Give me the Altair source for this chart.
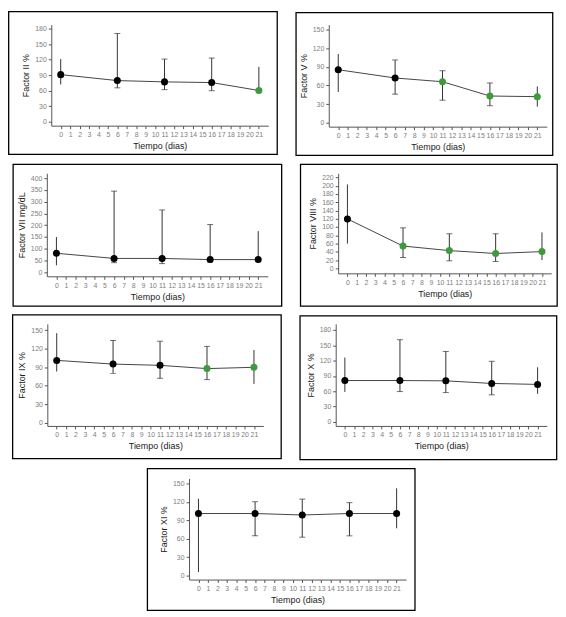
import altair as alt
import pandas as pd

# dias de muestreo y etiquetas del eje x
dias = [0, 6, 11, 16, 21]
dias_eje = [0, 1, 2, 3, 4, 5, 6, 7, 8, 9, 10, 11, 12, 13, 14, 15, 16, 17, 18, 19, 20, 21]

# Factor II %
f2_media = [91, 79.5, 77, 75.7, 60.4]
f2_sup = [121, 170.5, 121, 123, 106]
f2_inf = [72, 65.5, 62, 60, 58]
f2_sig = ["no", "no", "no", "no", "si"]
f2_ticks = [0, 30, 60, 90, 120, 150, 180]

# Factor V %
f5_media = [85.3, 72, 66, 43, 42]
f5_sup = [110.5, 101, 83.7, 64, 58.4]
f5_inf = [49.5, 46, 36.3, 27.4, 26]
f5_sig = ["no", "no", "si", "si", "si"]
f5_ticks = [0, 30, 60, 90, 120, 150]

# Factor VII mg/dL
f7_media = [81, 59, 59, 54, 54]
f7_sup = [150, 345, 265, 203, 175]
f7_inf = [30, 41, 37, 44, 46]
f7_sig = ["no", "no", "no", "no", "no"]
f7_ticks = [0, 50, 100, 150, 200, 250, 300, 350, 400]

# Factor VIII %
f8_media = [119.6, 54, 43, 36, 40.6]
f8_sup = [203, 98, 83.7, 83.7, 87]
f8_inf = [60, 26.3, 18.3, 16.7, 20]
f8_sig = ["no", "si", "si", "si", "si"]
f8_ticks = [0, 20, 40, 60, 80, 100, 120, 140, 160, 180, 200, 220]

# Factor IX %
f9_media = [101, 95, 93, 87.7, 89.8]
f9_sup = [145, 133, 132, 123.6, 117.8]
f9_inf = [83, 80, 72, 70, 63]
f9_sig = ["no", "no", "no", "si", "si"]
f9_ticks = [0, 30, 60, 90, 120, 150]

# Factor X %
f10_media = [81, 81, 80.4, 75.3, 73.4]
f10_sup = [126, 161, 138, 118.7, 107]
f10_inf = [58.7, 59.4, 57.4, 53, 55]
f10_sig = ["no", "no", "no", "no", "no"]
f10_ticks = [0, 30, 60, 90, 120, 150, 180]

# Factor XI %
f11_media = [101, 101, 98.6, 101, 101]
f11_sup = [125, 120, 124.5, 118.7, 142]
f11_inf = [5.8, 64.7, 62.5, 64.7, 77]
f11_sig = ["no", "no", "no", "no", "no"]
f11_ticks = [0, 30, 60, 90, 120, 150]


def panel(media, sup, inf, sig, titulo, ticks, dominio, caja):
    # caja: margen izq, ancho, margen der, margen arriba, alto, margen abajo (px)
    izq, ancho, der, arriba, alto, abajo = caja
    df = pd.DataFrame({"dia": dias, "media": media, "sup": sup, "inf": inf, "sig": sig})

    x = alt.X("dia:Q", title="Tiempo (dias)",
              scale=alt.Scale(domain=[-1, 22], nice=False, zero=False),
              axis=alt.Axis(values=dias_eje, labelOverlap=False, labelFlush=False, grid=False))

    def y(campo):
        return alt.Y(campo, title=titulo,
                     scale=alt.Scale(domain=dominio, nice=False, zero=False),
                     axis=alt.Axis(values=ticks, grid=False))

    base = alt.Chart(df)
    marco = alt.Chart(pd.DataFrame({"k": [0]})).mark_rect(
        filled=False, stroke="black", strokeWidth=1.3
    ).encode(x=alt.value(-izq), x2=alt.value(ancho + der),
             y=alt.value(-arriba), y2=alt.value(alto + abajo))
    linea = base.mark_line(color="#444", strokeWidth=1).encode(x=x, y=y("media:Q"))
    barras = base.mark_rule(color="#333", strokeWidth=1).encode(x=x, y=y("inf:Q"), y2="sup:Q")
    topes = base.transform_filter("datum.dia > 0 && datum.dia < 21").transform_fold(
        ["sup", "inf"], as_=["lim", "valor"]
    ).mark_tick(orient="horizontal", size=6, thickness=1, color="#333").encode(x=x, y=y("valor:Q"))
    puntos = base.mark_circle(size=50, opacity=1).encode(
        x=x, y=y("media:Q"),
        color=alt.Color("sig:N", scale=alt.Scale(domain=["no", "si"], range=["#000000", "#3d9a3d"]),
                        legend=None))
    return alt.layer(marco, linea, barras, topes, puntos).properties(width=ancho, height=alto)


p1 = panel(f2_media, f2_sup, f2_inf, f2_sig, "Factor II %", f2_ticks, [-7.6, 187.6], (43, 219, 9, 13, 102, 29))
p2 = panel(f5_media, f5_sup, f5_inf, f5_sig, "Factor V %", f5_ticks, [-6.3, 157.9], (33, 220, 6, 12, 103, 29))
p3 = panel(f7_media, f7_sup, f7_inf, f7_sig, "Factor VII mg/dL", f7_ticks, [-17, 421], (34, 223, 14, 9, 104, 30))
p4 = panel(f8_media, f8_sup, f8_inf, f8_sig, "Factor VIII %", f8_ticks, [-12, 230], (38, 215, 6, 9, 101, 33))
p5 = panel(f9_media, f9_sup, f9_inf, f9_sig, "Factor IX %", f9_ticks, [-5, 160], (35, 218, 18, 9, 103, 33))
p6 = panel(f10_media, f10_sup, f10_inf, f10_sig, "Factor X %", f10_ticks, [-8, 192], (36, 213, 10, 8, 103, 34))
p7 = panel(f11_media, f11_sup, f11_inf, f11_sig, "Factor XI %", f11_ticks, [-6.4, 158], (42, 219, 9, 10, 102, 31))

fila1 = alt.hconcat(p1, p2, spacing=17)
fila2 = alt.hconcat(p3, p4, spacing=17)
fila3 = alt.hconcat(p5, p6, spacing=17)

chart = alt.vconcat(fila1, fila2, fila3, p7, spacing=7, center=True).properties(
    padding=0
).configure(
    font="Liberation Sans"
).configure_axis(
    labelFontSize=7,
    labelColor="#808080",
    labelPadding=2,
    titleFontSize=9,
    titleColor="#1a1a1a",
    titleFontWeight="normal",
    titlePadding=4,
    domainColor="#555",
    tickColor="#555",
    tickSize=3
).configure_view(stroke=None)

chart.save("out.html", embed_options={"renderer": "svg", "actions": False})
